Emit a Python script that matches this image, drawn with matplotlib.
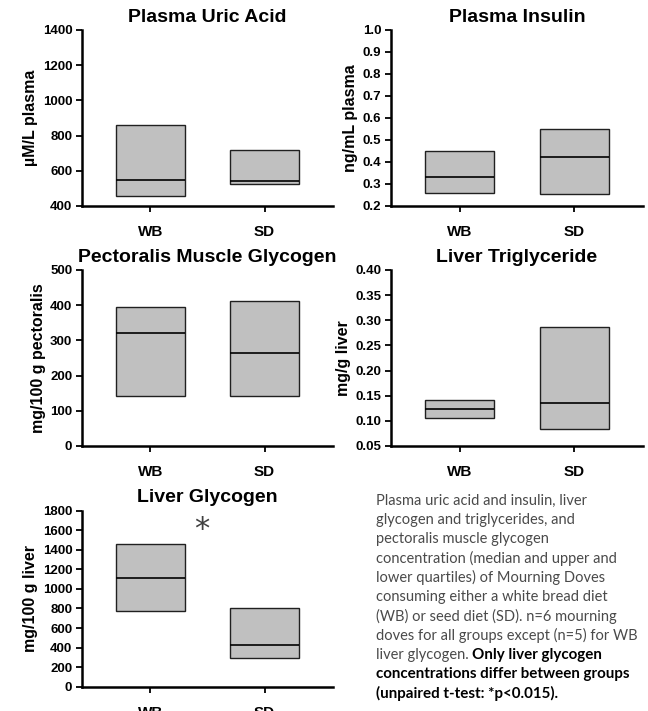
import matplotlib
matplotlib.use("Agg")
import matplotlib.pyplot as plt
import numpy as np

groups = ["WB", "SD"]

titles = ["Plasma Uric Acid", "Plasma Insulin", "Pectoralis Muscle Glycogen",
          "Liver Triglyceride", "Liver Glycogen"]
ylabels = ["µM/L plasma", "ng/mL plasma", "mg/100 g pectoralis",
           "mg/g liver", "mg/100 g liver"]

# lower quartile, median, upper quartile for WB, SD
uric_q1 = [457, 527]
uric_med = [548, 540]
uric_q3 = [860, 718]

insulin_q1 = [0.258, 0.253]
insulin_med = [0.333, 0.423]
insulin_q3 = [0.452, 0.548]

pect_q1 = [143, 143]
pect_med = [322, 265]
pect_q3 = [395, 412]

tg_q1 = [0.106, 0.083]
tg_med = [0.123, 0.135]
tg_q3 = [0.141, 0.286]

lglyc_q1 = [775, 290]
lglyc_med = [1115, 430]
lglyc_q3 = [1460, 800]

yticks = [
    [400, 600, 800, 1000, 1200, 1400],
    [0.2, 0.3, 0.4, 0.5, 0.6, 0.7, 0.8, 0.9, 1.0],
    [0, 100, 200, 300, 400, 500],
    [0.05, 0.10, 0.15, 0.20, 0.25, 0.30, 0.35, 0.40],
    [0, 200, 400, 600, 800, 1000, 1200, 1400, 1600, 1800],
]
ytick_fmt = ["{:.0f}", "{:.1f}", "{:.0f}", "{:.2f}", "{:.0f}"]

data = [
    (uric_q1, uric_med, uric_q3),
    (insulin_q1, insulin_med, insulin_q3),
    (pect_q1, pect_med, pect_q3),
    (tg_q1, tg_med, tg_q3),
    (lglyc_q1, lglyc_med, lglyc_q3),
]

W, H = 648, 711
fig = plt.figure(figsize=(W / 100, H / 100), dpi=100)
plt.rcParams['font.family'] = ['Liberation Sans', 'DejaVu Sans']

def rect(left, right, top, bottom):
    return [left / W, 1 - bottom / H, (right - left) / W, (bottom - top) / H]

positions = [
    rect(82, 333, 30, 206),
    rect(391, 643, 30, 206),
    rect(82, 333, 270, 446),
    rect(391, 643, 270, 446),
    rect(82, 333, 510.7, 686.7),
]

box_color = "#C0C0C0"
xs = np.arange(len(groups))
axes = []
for i, (pos, (q1, med, q3)) in enumerate(zip(positions, data)):
    ax = fig.add_axes(pos)
    axes.append(ax)
    q1 = np.array(q1); med = np.array(med); q3 = np.array(q3)
    ax.bar(xs, q3 - q1, bottom=q1, width=0.6, color=box_color,
           edgecolor="#202020", linewidth=1.0, zorder=2)
    ax.hlines(med, xs - 0.3, xs + 0.3, colors="black", linewidth=1.2, zorder=3)
    ax.set_xlim(-0.6, 1.6)
    yt = yticks[i]
    ax.set_ylim(yt[0], yt[-1])
    ax.set_yticks(yt)
    ax.set_yticklabels([ytick_fmt[i].format(v) for v in yt],
                       fontsize=9.5, fontweight="bold")
    ax.set_xticks(xs)
    ax.set_xticklabels(groups, fontsize=11, fontweight="bold")
    ax.spines["top"].set_visible(False)
    ax.spines["right"].set_visible(False)
    ax.spines["left"].set_linewidth(1.8)
    ax.spines["bottom"].set_linewidth(1.8)
    ax.tick_params(axis="y", direction="out", length=4, width=1.3, pad=3)
    ax.tick_params(axis="x", direction="out", length=4, width=1.3, pad=10)
    ax.set_title(titles[i], fontsize=14, fontweight="bold", pad=6)
    ax.set_ylabel(ylabels[i], fontsize=11.5, fontweight="bold", labelpad=3)

# significance asterisk on liver glycogen
axes[4].text(0.45, 1610, "*", fontsize=22, color="#404040",
             ha="center", va="center", family="DejaVu Sans")

# caption text
cap_regular = [
    "Plasma uric acid and insulin, liver",
    "glycogen and triglycerides, and",
    "pectoralis muscle glycogen",
    "concentration (median and upper and",
    "lower quartiles) of Mourning Doves",
    "consuming either a white bread diet",
    "(WB) or seed diet (SD). n=6 mourning",
    "doves for all groups except (n=5) for WB",
]
cap_mixed_regular = "liver glycogen. "
cap_mixed_bold = "Only liver glycogen"
cap_bold = [
    "concentrations differ between groups",
    "(unpaired t-test: *p<0.015).",
]

x0 = 376 / W
y_first = 500.5
dy = 19.25
cfont = "Lato"
csize = 10.55
bsize = 10.9
for k, line in enumerate(cap_regular):
    fig.text(x0, 1 - (y_first + k * dy) / H, line, fontsize=csize,
             family=cfont, color="#4a4a4a", va="center", ha="left")
k = len(cap_regular)
t1 = fig.text(x0, 1 - (y_first + k * dy) / H, cap_mixed_regular, fontsize=csize,
              family=cfont, color="#4a4a4a", va="center", ha="left")
fig.canvas.draw()
bb = t1.get_window_extent()
fig.text(bb.x1 / W, 1 - (y_first + k * dy) / H, cap_mixed_bold, fontsize=bsize,
         family=cfont, fontweight="bold", color="black", va="center", ha="left")
for j, line in enumerate(cap_bold):
    fig.text(x0, 1 - (y_first + (k + 1 + j) * dy) / H, line, fontsize=bsize,
             family=cfont, fontweight="bold", color="black", va="center", ha="left")

fig.savefig("out.png", dpi=100)
